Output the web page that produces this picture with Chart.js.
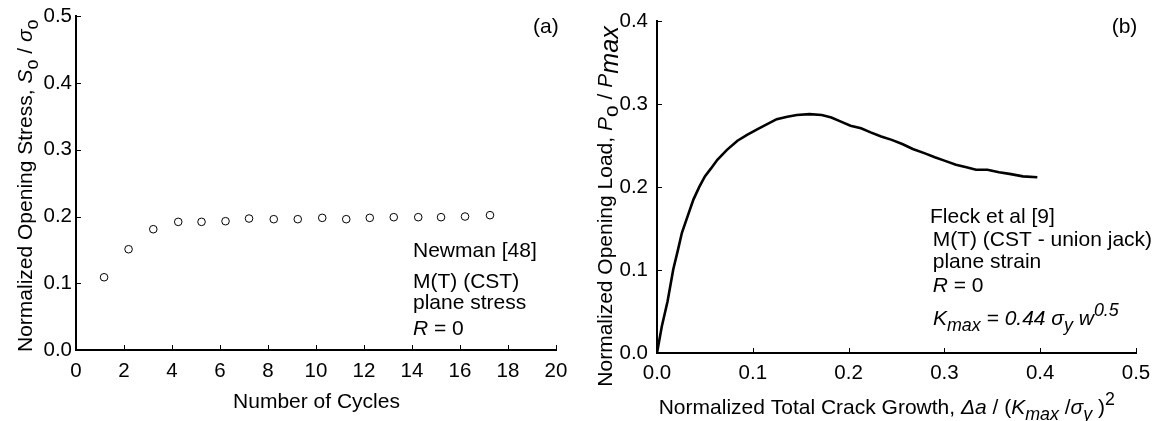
<!DOCTYPE html>
<html>
<head>
<meta charset="utf-8">
<script src="https://cdn.jsdelivr.net/npm/chart.js@4.4.1/dist/chart.umd.min.js"></script>
<style>
  html, body { margin: 0; padding: 0; background: #fff; }
  #wrap { position: relative; width: 1159px; height: 421px; overflow: hidden; }
  .panel { position: absolute; top: 0; height: 421px; }
  #panel-a { left: 0; width: 580px; }
  #panel-b { left: 580px; width: 579px; }
</style>
</head>
<body>
<div id="wrap">
  <div class="panel" id="panel-a"><canvas id="opening-stress-id"></canvas></div>
  <div class="panel" id="panel-b"><canvas id="opening-load-id"></canvas></div>
</div>
<script>
// ===================== DATA =====================

// (a) Newman [48] - opening stress vs cycles
const cycles = [1.17, 2.19, 3.22, 4.26, 5.23, 6.23, 7.21, 8.24, 9.24, 10.26, 11.26, 12.24, 13.24, 14.26, 15.21, 16.21, 17.25];
const openingStress = [0.109, 0.151, 0.181, 0.192, 0.192, 0.193, 0.197, 0.196, 0.196, 0.198, 0.196, 0.198, 0.199, 0.199, 0.199, 0.200, 0.202];
const cycleTicks = [0, 2, 4, 6, 8, 10, 12, 14, 16, 18, 20];
const stressTicks = [0.0, 0.1, 0.2, 0.3, 0.4, 0.5];

// (b) Fleck et al [9] - opening load vs crack growth
const crackGrowth = [0, 0.005, 0.011, 0.017, 0.022, 0.026, 0.032, 0.038, 0.044, 0.050, 0.056, 0.063, 0.073, 0.084, 0.094, 0.105,
  0.115, 0.125, 0.136, 0.146, 0.159, 0.172, 0.182, 0.192, 0.202, 0.213, 0.223, 0.234, 0.245, 0.256, 0.267, 0.279, 0.290,
  0.300, 0.312, 0.323, 0.333, 0.345, 0.357, 0.368, 0.382, 0.397];
const openingLoad = [0, 0.032, 0.062, 0.101, 0.125, 0.145, 0.165, 0.185, 0.200, 0.213, 0.222, 0.233, 0.245, 0.256, 0.263, 0.270,
  0.276, 0.282, 0.285, 0.287, 0.288, 0.287, 0.284, 0.279, 0.274, 0.271, 0.266, 0.261, 0.257, 0.252, 0.246, 0.241, 0.236,
  0.232, 0.227, 0.224, 0.221, 0.221, 0.218, 0.216, 0.213, 0.212];
const growthTicks = [0.0, 0.1, 0.2, 0.3, 0.4, 0.5];
const loadTicks = [0.0, 0.1, 0.2, 0.3, 0.4];

const FONT = '"Liberation Sans", Arial, sans-serif';
const TXT = 21;

// ===================== HELPERS =====================

// draw a run of text pieces: [text, flags] flags: i = italic, sub, sup
function drawRich(ctx, parts, x, y, rotate, align) {
  ctx.save();
  ctx.translate(x, y);
  if (rotate) ctx.rotate(rotate);
  ctx.fillStyle = '#000';
  ctx.textBaseline = 'alphabetic';
  ctx.textAlign = 'left';
  const fontFor = f => {
    const size = (f.sub || f.sup) ? TXT * (f.scale || 0.85) : TXT;
    return (f.i ? 'italic ' : '') + size + 'px ' + FONT;
  };
  let total = 0;
  parts.forEach(p => { ctx.font = fontFor(p[1] || {}); total += ctx.measureText(p[0]).width; });
  let cx = align === 'center' ? -total / 2 : 0;
  parts.forEach(p => {
    const f = p[1] || {};
    ctx.font = fontFor(f);
    let dy = 0;
    if (f.sub) dy = TXT * 0.28;
    if (f.sup) dy = -TXT * 0.42;
    ctx.fillText(p[0], cx, dy);
    cx += ctx.measureText(p[0]).width;
  });
  ctx.restore();
}

// inward tick marks + free text, both driven by chart options
const panelExtras = {
  id: 'panelExtras',
  afterDraw(chart, args, opts) {
    const { ctx, chartArea, scales } = chart;
    ctx.save();
    ctx.strokeStyle = '#000';
    ctx.lineWidth = 1;
    ctx.beginPath();
    scales.x.ticks.forEach(t => {
      if (t.value === scales.x.min) return;
      const px = Math.round(scales.x.getPixelForValue(t.value)) + 0.5;
      ctx.moveTo(px, chartArea.bottom);
      ctx.lineTo(px, chartArea.bottom - 5);
    });
    scales.y.ticks.forEach(t => {
      if (t.value === scales.y.min) return;
      const py = Math.round(scales.y.getPixelForValue(t.value)) + 0.5;
      ctx.moveTo(chartArea.left, py);
      ctx.lineTo(chartArea.left + 5, py);
    });
    ctx.stroke();
    ctx.restore();
    (opts.notes || []).forEach(n => drawRich(ctx, n.parts, n.x, n.y, n.rotate, n.align));
  }
};

function axisOpts(min, max, step, ticks, pad, size) {
  return {
    type: 'linear',
    min: min,
    max: max,
    afterBuildTicks: s => { s.ticks = ticks.map(v => ({ value: v })); },
    afterFit: s => { if (s.isHorizontal()) s.height = size; else s.width = size; },
    grid: { display: false, drawTicks: false },
    border: { display: true, color: '#000', width: 2 },
    title: { display: false },
    ticks: {
      stepSize: step,
      autoSkip: false,
      maxRotation: 0,
      padding: pad,
      color: '#000',
      font: { family: FONT, size: 20.5 },
      callback: v => (step < 1 ? Number(v).toFixed(1) : v)
    }
  };
}

// ===================== (a) OPENING STRESS =====================
const stressCtx = document.getElementById('opening-stress-id');
if (stressCtx) {
  new Chart(stressCtx, {
    type: 'scatter',
    data: {
      datasets: [{
        label: 'Newman [48]',
        data: cycles.map((c, i) => ({ x: c, y: openingStress[i] })),
        pointRadius: 3.8,
        pointBorderWidth: 1,
        pointBorderColor: '#000',
        pointBackgroundColor: '#fff'
      }]
    },
    options: {
      responsive: true,
      maintainAspectRatio: false,
      animation: false,
      events: [],
      layout: { padding: { top: 15, right: 24, left: 0, bottom: 0 } },
      scales: {
        x: axisOpts(0, 20, 2, cycleTicks, 9, 71),
        y: axisOpts(0, 0.5, 0.1, stressTicks, 4, 76)
      },
      plugins: {
        legend: { display: false },
        tooltip: { enabled: false },
        panelExtras: {
          notes: [
            { x: 413, y: 257, parts: [['Newman [48]']] },
            { x: 413, y: 288, parts: [['M(T) (CST)']] },
            { x: 413, y: 309, parts: [['plane stress']] },
            { x: 413, y: 335, parts: [['R', { i: true }], [' = 0']] },
            { x: 533, y: 33, parts: [['(a)']] },
            { x: 316.5, y: 407.7, align: 'center', parts: [['Number of Cycles']] },
            { x: 31.7, y: 352, rotate: -Math.PI / 2, parts: [
              ['Normalized Opening Stress, '], ['S', { i: true }], ['o', { sub: true }],
              [' / '], ['σ', { i: true }], ['o', { sub: true }]
            ] }
          ]
        }
      }
    },
    plugins: [panelExtras]
  });
}

// ===================== (b) OPENING LOAD =====================
const loadCtx = document.getElementById('opening-load-id');
if (loadCtx) {
  new Chart(loadCtx, {
    type: 'scatter',
    data: {
      datasets: [{
        label: 'Fleck et al [9]',
        data: crackGrowth.map((g, i) => ({ x: g, y: openingLoad[i] })),
        showLine: true,
        borderColor: '#000',
        borderWidth: 2.6,
        tension: 0,
        pointRadius: 0
      }]
    },
    options: {
      responsive: true,
      maintainAspectRatio: false,
      animation: false,
      events: [],
      layout: { padding: { top: 16, right: 23, left: 0, bottom: 0 } },
      scales: {
        x: axisOpts(0, 0.5, 0.1, growthTicks, 8, 68),
        y: axisOpts(0, 0.4, 0.1, loadTicks, 9, 77)
      },
      plugins: {
        legend: { display: false },
        tooltip: { enabled: false },
        panelExtras: {
          notes: [
            { x: 350, y: 223, parts: [['Fleck et al [9]']] },
            { x: 352.7, y: 246, parts: [['M(T) (CST - union jack)']] },
            { x: 352.7, y: 268, parts: [['plane strain']] },
            { x: 352.7, y: 292, parts: [['R', { i: true }], [' = 0']] },
            { x: 353, y: 325, parts: [
              ['K', { i: true }], ['max', { i: true, sub: true }], [' = 0.44 ', { i: true }],
              ['σ', { i: true }], ['y', { i: true, sub: true }], [' w', { i: true }], ['0.5', { i: true, sup: true }]
            ] },
            { x: 531.7, y: 33, parts: [['(b)']] },
            { x: 78.7, y: 414, parts: [
              ['Normalized Total Crack Growth, '], ['Δa', { i: true }], [' / ('], ['K', { i: true }],
              ['max', { i: true, sub: true }], [' /'], ['σ', { i: true }], ['y', { i: true, sub: true }],
              [' )'], ['2', { sup: true }]
            ] },
            { x: 31.7, y: 386.7, rotate: -Math.PI / 2, parts: [
              ['Normalized Opening Load, '], ['P', { i: true }], ['o', { sub: true, scale: 1 }],
              [' / '], ['P', { i: true }], ['max', { i: true, sub: true, scale: 1.2 }]
            ] }
          ]
        }
      }
    },
    plugins: [panelExtras]
  });
}
</script>
</body>
</html>
